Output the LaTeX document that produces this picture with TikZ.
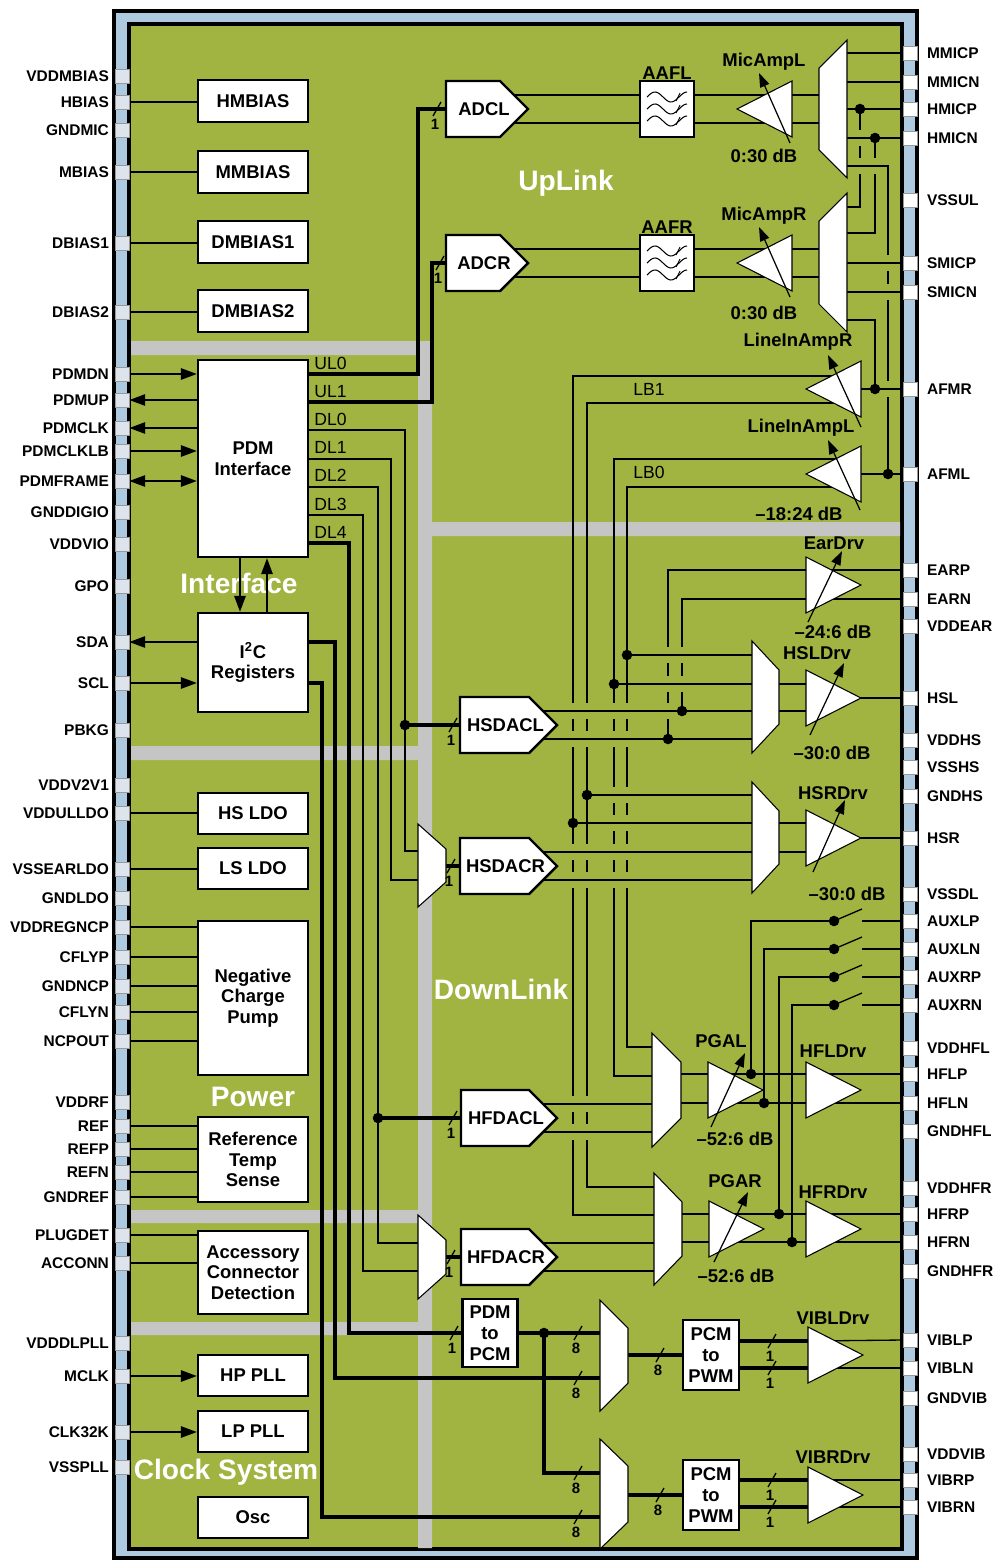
\documentclass[tikz,border=0pt]{standalone}
\usepackage{fontspec}
\setmainfont{Liberation Sans}
\usetikzlibrary{arrows.meta}
\definecolor{chip}{RGB}{161,179,64}
\definecolor{rim}{RGB}{174,202,224}
\definecolor{band}{RGB}{197,197,197}
\definecolor{padl}{RGB}{221,228,235}
\pgfdeclarelayer{back}
\pgfdeclarelayer{wires}
\pgfsetlayers{back,wires,main}
\tikzset{
  wire/.style={line width=0.75pt},
  bus/.style={line width=2pt},
  blk/.style={draw,fill=white,line width=1.4pt,minimum width=2.2cm,align=center,inner sep=1pt,
    font=\fontsize{10.5}{11.8}\selectfont\bfseries},
  cvt/.style={blk,minimum width=1.1cm},
  lpad/.style={draw=black!40,fill=padl,line width=0.4pt,minimum size=0.28cm,inner sep=0pt},
  rpad/.style={lpad,fill=white},
  pinlbl/.style={font=\fontsize{8.8}{10}\selectfont\bfseries,inner sep=1pt},
  convbox/.style={draw,fill=white,line width=1.4pt},
  convtxt/.style={font=\fontsize{10.5}{12}\selectfont\bfseries,inner sep=0pt},
  aaf/.style={draw,fill=white,line width=1.4pt,minimum width=1.08cm,minimum height=1.12cm},
  amp/.style={draw,fill=white,line width=0.6pt},
  mux/.style={amp},
  gain/.style={line width=0.7pt,-{Triangle[length=8pt,width=5.5pt]}},
  albl/.style={font=\fontsize{10.5}{12}\selectfont\bfseries,inner sep=0pt},
  sig/.style={font=\fontsize{10}{12}\selectfont,inner sep=0pt},
  bw/.style={font=\fontsize{8.5}{10}\selectfont\bfseries,inner sep=0pt},
  region/.style={text=white,font=\fontsize{16}{18}\selectfont\bfseries,inner sep=0pt},
}
% amplifier pointing right: base x, centre y
\newcommand\ampr[2]{\draw[amp] (#1,#2-28) -- (#1+55,#2) -- (#1,#2+28) -- cycle;}
% amplifier pointing left: apex x, centre y
\newcommand\ampl[2]{\draw[amp] (#1,#2) -- (#1+55,#2-28) -- (#1+55,#2+28) -- cycle;}
% mux: wide side x, narrow side x, top, bottom, inset
\newcommand\mux[5]{\draw[mux] (#1,#3) -- (#2,#3+#5) -- (#2,#4-#5) -- (#1,#4) -- cycle;}
% converter: name, left x, centre y, width, text
\newcommand\conv[5]{%
  \draw[convbox] (#2,#3-28) -- (#2+#4-28,#3-28) -- (#2+#4,#3) -- (#2+#4-28,#3+28) -- (#2,#3+28) -- cycle;
  \coordinate (#1) at (#2,#3);
  \node[convtxt] (#1t) at (#2+#4/2-3,#3) {#5};}
% gap in a vertical wire where a horizontal one crosses
\newcommand\hop[2]{\fill[chip] (#1-2.5,#2-8) rectangle (#1+2.5,#2+8); \draw[wire] (#1-4,#2) -- (#1+4,#2);}
% bus width mark
\newcommand\busw[3]{\draw[wire] (#1-4,#2+7) -- (#1+4,#2-7); \node[bw] (bw#1#2) at (#1-2,#2+15) {#3};}
% anti-alias filter symbol
\newcommand\filt[2]{%
  \foreach \dy in {-12,0,12}{%
    \draw[line width=0.6pt] plot[domain=0:1,samples=30,smooth] ({#1-20+40*\x},{#2+\dy-5*sin(450*\x)});
    \draw[line width=0.5pt] (#1+9,#2+\dy+4) -- (#1+13,#2+\dy-4);
  }}
\begin{document}
\begin{tikzpicture}[x=0.02cm,y=-0.02cm,>={Triangle[length=9pt,width=6.5pt]}]
\useasboundingbox (0,0) rectangle (997,1562);
\begin{pgfonlayer}{back}
  \draw[line width=1.8pt,fill=rim] (114,11) rectangle (917,1558);
  \draw[line width=1.8pt,fill=chip] (129,24) rectangle (902,1549);
  \fill[band] (131,341) rectangle (418,355) (418,341) rectangle (432,1548)
    (432,522) rectangle (900,536) (131,746) rectangle (418,760)
    (131,1210) rectangle (418,1223) (131,1322) rectangle (418,1335);
  \node[region] (rUp) at (566,183) {UpLink};
  \node[region] (rIf) at (239,583) {Interface};
  \node[region] (rDown) at (501,989) {DownLink};
  \node[region] (rPow) at (253,1097) {Power};
  \node[region] (rClk) at (226,1472) {Clock System};
\end{pgfonlayer}
% pins
\foreach \y/\t in {76/VDDMBIAS,102/HBIAS,130/GNDMIC,172/MBIAS,243/DBIAS1,312/DBIAS2,374/PDMDN,400/PDMUP,
  428/PDMCLK,451/PDMCLKLB,481/PDMFRAME,512/GNDDIGIO,544/VDDVIO,586/GPO,642/SDA,683/SCL,730/PBKG,
  785/VDDV2V1,813/VDDULLDO,869/VSSEARLDO,898/GNDLDO,927/VDDREGNCP,957/CFLYP,986/GNDNCP,1012/CFLYN,
  1041/NCPOUT,1102/VDDRF,1126/REF,1149/REFP,1172/REFN,1197/GNDREF,1235/PLUGDET,1263/ACCONN,
  1343/VDDDLPLL,1376/MCLK,1432/CLK32K,1467/VSSPLL}
{
  \node[lpad] (L\t) at (122,\y) {};
  \node[pinlbl,anchor=east] (l\t) at (111,\y) {\t};
}
\foreach \y/\t in {53/MMICP,82/MMICN,109/HMICP,138/HMICN,200/VSSUL,263/SMICP,292/SMICN,389/AFMR,
  474/AFML,570/EARP,599/EARN,626/VDDEAR,698/HSL,740/VDDHS,767/VSSHS,796/GNDHS,838/HSR,894/VSSDL,
  921/AUXLP,949/AUXLN,977/AUXRP,1005/AUXRN,1048/VDDHFL,1074/HFLP,1103/HFLN,1131/GNDHFL,1188/VDDHFR,
  1214/HFRP,1242/HFRN,1271/GNDHFR,1340/VIBLP,1368/VIBLN,1398/GNDVIB,1454/VDDVIB,1480/VIBRP,1507/VIBRN}
{
  \node[rpad] (R\t) at (910,\y) {};
  \node[pinlbl,anchor=west] (r\t) at (925,\y) {\t};
}
% left blocks
\node[blk,minimum height=0.84cm] (HMBIAS) at (253,101) {HMBIAS};
\node[blk,minimum height=0.84cm] (MMBIAS) at (253,172) {MMBIAS};
\node[blk,minimum height=0.84cm] (DMBIAS1) at (253,242) {DMBIAS1};
\node[blk,minimum height=0.84cm] (DMBIAS2) at (253,311) {DMBIAS2};
\node[blk,minimum height=3.94cm] (PDM) at (253,458.5) {PDM\\Interface};
\node[blk,minimum height=1.98cm] (I2C) at (253,662.5) {I\textsuperscript{2}C\\Registers};
\node[blk,minimum height=0.82cm] (HSLDO) at (253,813.5) {HS LDO};
\node[blk,minimum height=0.82cm] (LSLDO) at (253,868.5) {LS LDO};
\node[blk,minimum height=3.08cm] (NCP) at (253,998) {Negative\\Charge\\Pump};
\node[blk,minimum height=1.7cm] (REFB) at (253,1159.5) {Reference\\Temp\\Sense};
\node[blk,minimum height=1.66cm] (ACD) at (253,1272.5) {Accessory\\Connector\\Detection};
\node[blk,minimum height=0.82cm] (HPPLL) at (253,1375.5) {HP PLL};
\node[blk,minimum height=0.82cm] (LPPLL) at (253,1431.5) {LP PLL};
\node[blk,minimum height=0.82cm] (OSC) at (253,1517.5) {Osc};
\foreach \n [count=\i from 0] in {UL0,UL1,DL0,DL1,DL2,DL3,DL4}
  {\node[sig,anchor=west] (t\n) at (314,363+28.2*\i) {\n};}
% converters
\conv{ADCL}{446}{109}{82}{ADCL}
\conv{ADCR}{446}{263}{82}{ADCR}
\conv{HSDACL}{460}{725}{97}{HSDACL}
\conv{HSDACR}{460}{866}{97}{HSDACR}
\conv{HFDACL}{461}{1118}{96}{HFDACL}
\conv{HFDACR}{461}{1257}{96}{HFDACR}
\node[aaf] (AAFL) at (667,109) {};
\node[aaf] (AAFR) at (667,263) {};
\node[cvt,minimum height=1.36cm] (P2P) at (490,1333) {PDM\\to\\PCM};
\node[cvt,minimum width=1.12cm,minimum height=1.4cm] (PWML) at (711,1355) {PCM\\to\\PWM};
\node[cvt,minimum width=1.12cm,minimum height=1.4cm] (PWMR) at (711,1495) {PCM\\to\\PWM};
\filt{667}{109}
\filt{667}{263}
\node[albl,anchor=south] (tAAFL) at (AAFL.north) {AAFL};
\node[albl,anchor=south] (tAAFR) at (AAFR.north) {AAFR};
\begin{pgfonlayer}{wires}
  % pins to blocks
  \foreach \p/\b in {HBIAS/HMBIAS,MBIAS/MMBIAS,DBIAS1/DMBIAS1,DBIAS2/DMBIAS2,VDDULLDO/HSLDO,
    VSSEARLDO/LSLDO,VDDREGNCP/NCP,CFLYP/NCP,GNDNCP/NCP,CFLYN/NCP,NCPOUT/NCP,REF/REFB,REFP/REFB,
    REFN/REFB,GNDREF/REFB,PLUGDET/ACD,ACCONN/ACD}
    {\draw[wire] (L\p.east) -- (L\p -| \b.west);}
  \foreach \p/\b in {PDMDN/PDM,PDMCLKLB/PDM,SCL/I2C,MCLK/HPPLL,CLK32K/LPPLL}
    {\draw[wire,->] (L\p.east) -- (L\p -| \b.west);}
  \foreach \p/\b in {PDMUP/PDM,PDMCLK/PDM,SDA/I2C}
    {\draw[wire,<-] (L\p.east) -- (L\p -| \b.west);}
  \draw[wire,<->] (LPDMFRAME.east) -- (LPDMFRAME -| PDM.west);
  \draw[wire,->] ([xshift=-0.26cm]PDM.south) -- ([xshift=-0.26cm]I2C.north);
  \draw[wire,->] ([xshift=0.28cm]I2C.north) -- ([xshift=0.28cm]PDM.south);
  % PDM interface lanes
  \draw[bus] (308,374) -- (418,374) -- (418,109) -- (ADCL);
  \draw[bus] (308,402) -- (432,402) -- (432,263) -- (ADCR);
  \draw[wire] (308,430) -- (405,430) -- (405,851) -- (418,851);
  \draw[wire] (308,459) -- (391,459) -- (391,880) -- (418,880);
  \draw[wire] (308,487) -- (378,487) -- (378,1243) -- (418,1243);
  \draw[wire] (308,515) -- (363,515) -- (363,1271) -- (418,1271);
  \draw[bus] (308,543) -- (349,543) -- (349,1333) -- (P2P.west);
  \draw[bus] (405,725) -- (HSDACL);
  \draw[bus] (378,1118) -- (HFDACL);
  \draw[bus] (446,866) -- (HSDACR);
  \draw[bus] (446,1257) -- (HFDACR);
  \draw[bus] (308,642) -- (335,642) -- (335,1378) -- (600,1378);
  \draw[bus] (308,683) -- (322,683) -- (322,1517) -- (600,1517);
  % uplink
  \draw[wire] (505,95) -- (819,95) (505,123) -- (819,123) (505,249) -- (819,249) (505,277) -- (819,277);
  \foreach \y/\p in {53/MMICP,82/MMICN,109/HMICP,138/HMICN,263/SMICP,292/SMICN}
    {\draw[wire] (847,\y) -- (R\p.west);}
  \draw[wire] (847,166) -- (888,166) -- (888,474);
  \draw[wire] (860,109) -- (860,207) -- (847,207);
  \draw[wire] (875,138) -- (875,233) -- (847,233);
  \draw[wire] (847,320) -- (875,320) -- (875,389);
  \draw[wire] (858,389) -- (RAFMR.west);
  \draw[wire] (858,474) -- (RAFML.west);
  % loopback
  \draw[wire] (858,376) -- (573,376) -- (573,1215) -- (654,1215);
  \draw[wire] (858,403) -- (587,403) -- (587,1187) -- (654,1187);
  \draw[wire] (858,459) -- (614,459) -- (614,1076) -- (652,1076);
  \draw[wire] (858,487) -- (627,487) -- (627,1047) -- (652,1047);
  % downlink
  \draw[wire] (627,655) -- (752,655) (614,684) -- (752,684) (587,795) -- (752,795) (573,823) -- (752,823);
  \draw[wire] (530,711) -- (752,711) (530,739) -- (752,739) (530,852) -- (752,852) (530,880) -- (752,880);
  \draw[wire] (530,1104) -- (652,1104) (530,1132) -- (652,1132) (530,1243) -- (654,1243) (530,1271) -- (654,1271);
  \draw[wire] (REARP.west) -- (668,570) -- (668,739);
  \draw[wire] (REARN.west) -- (682,599) -- (682,711);
  \draw[wire] (779,684) -- (806,684) (779,711) -- (806,711) (779,823) -- (806,823) (779,852) -- (806,852);
  \draw[wire] (858,698) -- (RHSL.west);
  \draw[wire] (858,838) -- (RHSR.west);
  \draw[wire] (681,1074) -- (RHFLP.west);
  \draw[wire] (681,1103) -- (RHFLN.west);
  \draw[wire] (682,1214) -- (RHFRP.west);
  \draw[wire] (682,1242) -- (RHFRN.west);
  \draw[wire] (751,1074) -- (751,921) -- (834,921) (764,1103) -- (764,949) -- (834,949)
    (779,1214) -- (779,977) -- (834,977) (792,1242) -- (792,1005) -- (834,1005);
  \foreach \y/\p in {921/AUXLP,949/AUXLN,977/AUXRP,1005/AUXRN}
  {
    \draw[wire] (834,\y) -- (862,\y-12);
    \draw[wire] (862,\y) -- (R\p.west);
  }
  % vibra
  \draw[bus] (P2P.east) -- (600,1333);
  \draw[bus] (544,1333) -- (544,1473) -- (600,1473);
  \draw[bus] (628,1355) -- (PWML.west);
  \draw[bus] (628,1495) -- (PWMR.west);
  \draw[bus] (739,1341) -- (810,1341) (739,1368) -- (810,1368) (739,1480) -- (810,1480) (739,1507) -- (810,1507);
  \draw[wire] (810,1341) -- (RVIBLP.west);
  \draw[wire] (810,1368) -- (RVIBLN.west);
  \draw[wire] (810,1480) -- (RVIBRP.west);
  \draw[wire] (810,1507) -- (RVIBRN.west);
  % crossings
  \foreach \x/\y in {860/138,860/166,875/166,888/263,888/292,888/389,668/655,668/684,668/711,682/655,682/684}
    {\hop{\x}{\y}}
  \foreach \y in {711,739,852,880,1104,1132}
  {
    \hop{573}{\y}
    \hop{587}{\y}
  }
  \foreach \y in {711,739,795,823,852,880}
  {
    \hop{614}{\y}
    \hop{627}{\y}
  }
\end{pgfonlayer}
% muxes and amplifiers
\mux{847}{819}{40}{178}{28}
\mux{847}{819}{193}{332}{28}
\mux{418}{446}{824}{907}{25}
\mux{418}{446}{1215}{1299}{25}
\mux{752}{779}{641}{753}{29}
\mux{752}{779}{782}{893}{29}
\mux{652}{681}{1033}{1147}{29}
\mux{654}{682}{1173}{1285}{29}
\mux{600}{628}{1300}{1411}{28}
\mux{600}{628}{1439}{1549}{27}
\ampl{737}{109}
\ampl{737}{263}
\ampl{806}{389}
\ampl{806}{474}
\ampr{806}{585}
\ampr{806}{698}
\ampr{806}{838}
\ampr{708}{1090}
\ampr{709}{1229}
\ampr{806}{1090}
\ampr{806}{1229}
\ampr{808}{1355}
\ampr{808}{1495}
\draw[gain] (790,143) -- (759,73);
\draw[gain] (790,297) -- (759,227);
\draw[gain] (861,427) -- (828,355);
\draw[gain] (860,510) -- (828,440);
\draw[gain] (808,622) -- (842,551);
\draw[gain] (810,735) -- (844,663);
\draw[gain] (813,872) -- (845,800);
\draw[gain] (711,1127) -- (745,1053);
\draw[gain] (714,1262) -- (748,1192);
% junctions
\foreach \x/\y in {860/109,875/138,888/474,875/389,405/725,378/1118,627/655,614/684,587/795,573/823,
  682/711,668/739,751/1074,764/1103,779/1214,792/1242,834/921,834/949,834/977,834/1005,544/1333}
  {\fill (\x,\y) circle (3pt);}
% bus widths
\foreach \x/\y/\w in {437/109/1,440/263/1,453/725/1,451/866/1,453/1118/1,451/1257/1,454/1333/1,
  578/1333/8,578/1378/8,578/1473/8,578/1517/8,660/1355/8,660/1495/8,772/1341/1,772/1368/1,772/1480/1,772/1507/1}
  {\busw{\x}{\y}{\w}}
% amplifier labels
\node[albl] (nMicL) at (764,62) {MicAmpL};
\node[albl] (gMicL) at (764,156) {0:30 dB};
\node[albl] (nMicR) at (764,216) {MicAmpR};
\node[albl] (gMicR) at (764,313) {0:30 dB};
\node[albl] (nLinR) at (798,342) {LineInAmpR};
\node[albl] (nLinL) at (801,428) {LineInAmpL};
\node[albl] (gLin) at (799,514) {\textendash18:24 dB};
\node[albl] (nEar) at (834,543) {EarDrv};
\node[albl] (gEar) at (833,632) {\textendash24:6 dB};
\node[albl] (nHSL) at (817,653) {HSLDrv};
\node[albl] (gHSL) at (832,753) {\textendash30:0 dB};
\node[albl] (nHSR) at (833,793) {HSRDrv};
\node[albl] (gHSR) at (847,894) {\textendash30:0 dB};
\node[albl] (nPGAL) at (721,1041) {PGAL};
\node[albl] (gPGAL) at (735,1139) {\textendash52:6 dB};
\node[albl] (nHFL) at (833,1051) {HFLDrv};
\node[albl] (nPGAR) at (735,1181) {PGAR};
\node[albl] (gPGAR) at (736,1276) {\textendash52:6 dB};
\node[albl] (nHFR) at (833,1192) {HFRDrv};
\node[albl] (nVIBL) at (833,1318) {VIBLDrv};
\node[albl] (nVIBR) at (833,1457) {VIBRDrv};
\node[sig] (tLB1) at (649,389) {LB1};
\node[sig] (tLB0) at (649,472) {LB0};
\end{tikzpicture}
\end{document}
